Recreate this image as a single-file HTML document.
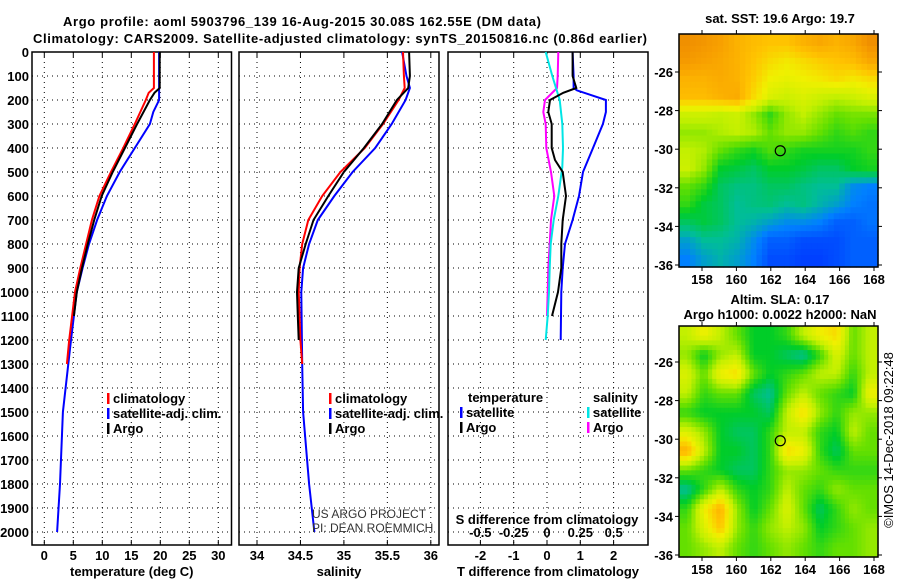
<!DOCTYPE html>
<html><head><meta charset="utf-8">
<style>
body{margin:0;background:#fff;}
svg{display:block;font-family:"Liberation Sans",sans-serif;}
.b{font-weight:bold;font-size:13px;fill:#000;}
.g{stroke:#000;stroke-width:1;stroke-dasharray:1,4;fill:none;}
</style></head>
<body>
<svg id="chart" width="900" height="580" viewBox="0 0 900 580" xmlns="http://www.w3.org/2000/svg">
<text class="b" x="302" y="26" text-anchor="middle" font-size="15.5" textLength="478">Argo profile: aoml 5903796_139 16-Aug-2015 30.08S 162.55E (DM data)</text>
<text class="b" x="340" y="43" text-anchor="middle" font-size="15.5" textLength="614">Climatology: CARS2009. Satellite-adjusted climatology: synTS_20150816.nc (0.86d earlier)</text>
<g id="root"></g>
<text x="0" y="0" transform="translate(893,440) rotate(-90)" text-anchor="middle" font-size="13" fill="#000">©IMOS 14-Dec-2018 09:22:48</text>
</svg>
<script>
// ---- data ----
const depthTicks=[0,100,200,300,400,500,600,700,800,900,1000,1100,1200,1300,1400,1500,1600,1700,1800,1900,2000];
const tempTicks=[0,5,10,15,20,25,30];
const salTicks=[34,34.5,35,35.5,36];
const tdiffTicks=[-2,-1,0,1,2];
const sdiffTicks=[-0.5,-0.25,0,0.25,0.5];
const sdiffLabels=["-0.5","-0.25","0","0.25","0.5"];

const tClimD=[0,150,170,200,300,400,500,600,700,800,900,1000,1100,1200,1300];
const tClimV=[18.9,18.9,18.0,17.5,15.6,13.6,11.5,9.5,8.2,7.2,6.2,5.3,4.8,4.3,3.9];
const tSatD=[0,200,250,300,400,500,600,700,800,900,1000,1200,1500,1800,2000];
const tSatV=[19.8,19.8,18.8,18.2,15.6,13.0,10.8,9.1,7.7,6.6,5.6,4.6,3.2,2.7,2.2];
const tArgoD=[0,150,170,200,300,400,500,600,700,800,900,1000,1100];
const tArgoV=[19.9,19.9,19.0,18.2,16.0,13.9,11.8,9.9,8.6,7.5,6.5,5.6,5.1];

const sClimD=[0,100,150,200,300,400,500,600,700,800,900,1000,1200,1300];
const sClimV=[35.68,35.69,35.70,35.63,35.45,35.24,34.96,34.75,34.59,34.52,34.49,34.48,34.50,34.52];
const sSatD=[0,100,150,200,300,400,500,600,700,800,900,1000,1300,1500,1800,2000];
const sSatV=[35.67,35.72,35.76,35.71,35.55,35.36,35.10,34.89,34.70,34.60,34.53,34.51,34.52,34.53,34.60,34.66];
const sArgoD=[0,100,150,200,300,400,500,600,700,800,900,1000,1100,1200];
const sArgoV=[35.75,35.76,35.74,35.61,35.44,35.23,35.00,34.82,34.65,34.56,34.48,34.46,34.47,34.48];

const dTSatD=[0,100,150,160,200,250,300,400,500,600,700,800,900,1000,1100,1200];
const dTSatV=[0.77,0.8,0.8,0.9,1.77,1.77,1.68,1.38,1.08,0.96,0.77,0.54,0.47,0.43,0.42,0.41];
const dTArgoD=[0,100,150,170,200,250,300,400,450,500,600,700,800,900,1000,1100];
const dTArgoV=[0.77,0.77,0.88,0.49,0.09,0.04,0.14,0.14,0.24,0.47,0.57,0.47,0.43,0.43,0.33,0.15];
const dSArgoD=[0,100,150,200,250,300,400,500,600,700,800,900,1000,1100];
const dSArgoV=[0.085,0.08,0.075,-0.015,-0.028,-0.01,-0.005,0.03,0.055,0.03,0.02,0.01,0.005,0];
const dSSatD=[0,100,200,300,400,480,600,700,800,900,1000,1100,1200];
const dSSatV=[-0.01,0.04,0.095,0.115,0.12,0.115,0.085,0.05,0.028,0.02,0.015,0.005,-0.01];

const latTicks=[-26,-28,-30,-32,-34,-36];
const lonTicks=[158,160,162,164,166,168];
const sstGrid=[
[0.95,0.93,0.9,0.85,0.82,0.8,0.8,0.85,0.88,0.85,0.88,0.95],
[0.92,0.9,0.88,0.85,0.8,0.75,0.72,0.75,0.78,0.8,0.82,0.88],
[0.85,0.85,0.87,0.85,0.78,0.7,0.68,0.7,0.72,0.75,0.72,0.75],
[0.82,0.82,0.85,0.87,0.75,0.65,0.62,0.65,0.62,0.6,0.62,0.65],
[0.62,0.62,0.6,0.62,0.55,0.45,0.55,0.6,0.55,0.5,0.52,0.52],
[0.55,0.55,0.58,0.6,0.58,0.5,0.55,0.55,0.5,0.45,0.48,0.45],
[0.6,0.58,0.5,0.45,0.42,0.48,0.45,0.42,0.42,0.42,0.42,0.45],
[0.62,0.55,0.4,0.38,0.35,0.4,0.4,0.38,0.35,0.35,0.4,0.42],
[0.5,0.45,0.35,0.32,0.32,0.35,0.35,0.32,0.3,0.3,0.22,0.2],
[0.45,0.38,0.35,0.3,0.32,0.33,0.3,0.32,0.28,0.25,0.2,0.18],
[0.35,0.38,0.35,0.3,0.28,0.25,0.22,0.22,0.2,0.15,0.15,0.18],
[0.25,0.3,0.3,0.28,0.22,0.15,0.15,0.12,0.12,0.12,0.15,0.15],
[0.2,0.25,0.28,0.25,0.2,0.12,0.12,0.1,0.1,0.12,0.15,0.15]];
const slaGrid=[
[0.6,0.7,0.6,0.5,0.4,0.4,0.45,0.6,0.7,0.75,0.5,0.6],
[0.55,0.4,0.55,0.6,0.4,0.4,0.35,0.3,0.45,0.65,0.5,0.6],
[0.65,0.5,0.7,0.75,0.5,0.4,0.45,0.5,0.6,0.6,0.45,0.6],
[0.6,0.45,0.5,0.5,0.35,0.3,0.5,0.6,0.5,0.45,0.4,0.7],
[0.45,0.4,0.4,0.4,0.4,0.35,0.6,0.75,0.55,0.45,0.55,0.55],
[0.65,0.55,0.4,0.35,0.35,0.45,0.6,0.6,0.45,0.4,0.6,0.5],
[0.85,0.6,0.4,0.4,0.35,0.45,0.75,0.7,0.45,0.35,0.5,0.5],
[0.5,0.45,0.4,0.35,0.35,0.45,0.55,0.55,0.5,0.45,0.45,0.45],
[0.3,0.45,0.6,0.45,0.4,0.45,0.6,0.5,0.45,0.55,0.5,0.5],
[0.45,0.7,0.85,0.55,0.4,0.5,0.65,0.5,0.35,0.45,0.55,0.5],
[0.5,0.65,0.8,0.55,0.45,0.55,0.6,0.55,0.4,0.45,0.5,0.55],
[0.5,0.55,0.6,0.5,0.45,0.5,0.55,0.5,0.45,0.5,0.5,0.55]];
const argoLon=162.55, argoLat=-30.08;

// ---- drawing ----
const NS="http://www.w3.org/2000/svg";
const root=document.getElementById('root');
function mk(tag,attrs,parent){const e=document.createElementNS(NS,tag);for(const k in attrs)e.setAttribute(k,attrs[k]);(parent||root).appendChild(e);return e;}
function txt(s,attrs,parent){const e=mk('text',attrs,parent);e.textContent=s;return e;}
const TOP=52,BOT=545;
const yD=d=>52+d*0.24;

function panel(name,x0,x1,xs,ticks,labels,title){
  const g=mk('g',{});
  
  
  depthTicks.forEach(d=>{const l=mk('line',{x1:x0,x2:x1,y1:yD(d),y2:yD(d),class:'g'},g);
    
    });
  ticks.forEach((t,i)=>{const x=xs(t);
    const l=mk('line',{x1:x,x2:x,y1:TOP,y2:BOT,class:'g'},g);
    
    
    mk('line',{x1:x,x2:x,y1:BOT,y2:BOT-5,stroke:'#000'},g);
    mk('line',{x1:x,x2:x,y1:TOP,y2:TOP+5,stroke:'#000'},g);
    if(labels){const tl=txt(labels[i],{x:x,y:560,'text-anchor':'middle',class:'b'},g);
      
      }
  });
  const r=mk('rect',{x:x0,y:TOP,width:x1-x0,height:BOT-TOP,fill:'none',stroke:'#000','stroke-width':1.5},g);
  
  
  if(title){const t=txt(title,{x:(x0+x1)/2,y:576,'text-anchor':'middle',class:'b'},g);
    
    }
  return g;
}
function line(g,name,D,V,xs,color){
  const p=D.map((d,i)=>xs(V[i]).toFixed(1)+','+yD(d).toFixed(1)).join(' ');
  const e=mk('polyline',{points:p,fill:'none',stroke:color,'stroke-width':2},g);
  
  
}
function legend(g,items,x,y){
  items.forEach((it,i)=>{
    const yy=y+i*15;
    mk('rect',{x:x,y:yy-10,width:2.5,height:11,fill:it[1]},g);
    const t=txt(it[0],{x:x+6,y:yy,class:'b'},g);
    
    
  });
}
// panel 1
const xT=v=>44.3+v*5.8;
const p1=panel('temperature-panel',32,231.5,xT,tempTicks,tempTicks.map(String),'temperature (deg C)');
depthTicks.forEach(d=>{const t=txt(String(d),{x:29,y:yD(d)+5,'text-anchor':'end',class:'b'},p1);
  
  });
line(p1,'temp-satellite-line',tSatD,tSatV,xT,'#0000ff');
line(p1,'temp-climatology-line',tClimD,tClimV,xT,'#ff0000');
line(p1,'temp-argo-line',tArgoD,tArgoV,xT,'#000');
legend(p1,[['climatology','#ff0000'],['satellite-adj. clim.','#0000ff'],['Argo','#000']],107,403);
// panel 2
const xS=v=>257+(v-34)*86.9;
const p2=panel('salinity-panel',239,439,xS,salTicks,salTicks.map(String),'salinity');
line(p2,'sal-satellite-line',sSatD,sSatV,xS,'#0000ff');
line(p2,'sal-climatology-line',sClimD,sClimV,xS,'#ff0000');
line(p2,'sal-argo-line',sArgoD,sArgoV,xS,'#000');
legend(p2,[['climatology','#ff0000'],['satellite-adj. clim.','#0000ff'],['Argo','#000']],329,403);
const c1=txt('US ARGO PROJECT',{x:312,y:518,'font-size':12,fill:'#333'},p2);


const c2=txt('PI: DEAN ROEMMICH',{x:312,y:532,'font-size':12,fill:'#333'},p2);


// panel 3
const xdT=v=>547+v*33.3;
const xdS=v=>547+v*133.3;
const p3=panel('difference-panel',448,648,xdT,tdiffTicks,tdiffTicks.map(String),'T difference from climatology');
sdiffTicks.forEach((t,i)=>{const tl=txt(sdiffLabels[i],{x:xdS(t),y:537,'text-anchor':'middle',class:'b'},p3);
  
  });
const st=txt('S difference from climatology',{x:547,y:524,'text-anchor':'middle',class:'b'},p3);


line(p3,'dT-satellite-line',dTSatD,dTSatV,xdT,'#0000ff');
line(p3,'dS-argo-line',dSArgoD,dSArgoV,xdS,'#ff00ff');
line(p3,'dS-satellite-line',dSSatD,dSSatV,xdS,'#00e5e5');
line(p3,'dT-argo-line',dTArgoD,dTArgoV,xdT,'#000');
const lt=txt('temperature',{x:468,y:402,class:'b'},p3);


legend(p3,[['satellite','#0000ff'],['Argo','#000']],460,417);
const ls=txt('salinity',{x:593,y:402,class:'b'},p3);


legend(p3,[['satellite','#00e5e5'],['Argo','#ff00ff']],587,417);

// maps
const cmapStops=[[0.1,[0,64,255]],[0.2,[0,128,255]],[0.3,[0,190,150]],[0.4,[0,205,40]],[0.5,[100,224,0]],[0.6,[195,240,0]],[0.7,[240,240,0]],[0.8,[255,195,0]],[0.9,[248,160,0]],[1.0,[232,128,0]]];
function cmap(v){
  if(v<=cmapStops[0][0])return 'rgb('+cmapStops[0][1]+')';
  for(let i=1;i<cmapStops.length;i++){if(v<=cmapStops[i][0]){const a=cmapStops[i-1],b=cmapStops[i];const f=(v-a[0])/(b[0]-a[0]);
    return 'rgb('+a[1].map((c,k)=>Math.round(c+(b[1][k]-c)*f)).join(',')+')';}}
  return 'rgb('+cmapStops[cmapStops.length-1][1]+')';
}
function sample(grid,r,c){ // bilinear, cell-centred
  const R=grid.length,C=grid[0].length;
  r=Math.max(0,Math.min(R-1,r));c=Math.max(0,Math.min(C-1,c));
  const r0=Math.floor(r),c0=Math.floor(c),r1=Math.min(R-1,r0+1),c1=Math.min(C-1,c0+1);
  const fr=r-r0,fc=c-c0;
  return (grid[r0][c0]*(1-fc)+grid[r0][c1]*fc)*(1-fr)+(grid[r1][c0]*(1-fc)+grid[r1][c1]*fc)*fr;
}
function map(name,grid,x0,x1,y0,y1,latRef,title1,title2,sub){
  const g=mk('g',{});
  
  
  const rows=grid.length,cols=grid[0].length;
  const NR=rows*sub,NC=cols*sub,cw=(x1-x0)/NC,ch=(y1-y0)/NR;
  for(let r=0;r<NR;r++)for(let c=0;c<NC;c++){
    const v=sample(grid,(r+0.5)/sub-0.5,(c+0.5)/sub-0.5);
    const e=mk('rect',{x:(x0+c*cw).toFixed(2),y:(y0+r*ch).toFixed(2),width:(cw+0.6).toFixed(2),height:(ch+0.6).toFixed(2),fill:cmap(v)},g);
    
    
  }
  const xL=lon=>702+(lon-158)*17.2;
  const yL=lat=>latRef+(-26-lat)*19.3;
  mk('rect',{x:x0,y:y0,width:x1-x0,height:y1-y0,fill:'none',stroke:'#000','stroke-width':1.5},g);
  lonTicks.forEach(l=>{mk('line',{x1:xL(l),x2:xL(l),y1:y1,y2:y1+4,stroke:'#000'},g);mk('line',{x1:xL(l),x2:xL(l),y1:y0,y2:y0-4,stroke:'#000'},g);
    const t=txt(String(l),{x:xL(l),y:y1+17,'text-anchor':'middle',class:'b'},g);
    
    });
  latTicks.forEach(l=>{mk('line',{x1:x0,x2:x0-4,y1:yL(l),y2:yL(l),stroke:'#000'},g);mk('line',{x1:x1,x2:x1+4,y1:yL(l),y2:yL(l),stroke:'#000'},g);
    const t=txt(String(l),{x:x0-6,y:yL(l)+5,'text-anchor':'end',class:'b'},g);
    
    });
  const m=mk('circle',{cx:xL(argoLon),cy:yL(argoLat),r:5,fill:'none',stroke:'#000','stroke-width':1.2},g);
  
  
  const t1=txt(title1,{x:780,y:title2?y0-22:y0-11,'text-anchor':'middle',class:'b'},g);
  
  
  if(title2){const t2=txt(title2,{x:780,y:y0-7,'text-anchor':'middle',class:'b'},g);
    
    }
}
map('sst-map',sstGrid,679,878,34,267,72,'sat. SST: 19.6 Argo: 19.7',null,3);
map('sla-map',slaGrid,679,878,326,557,362,'Altim. SLA: 0.17','Argo h1000: 0.0022 h2000: NaN',4);
</script>
</body></html>
